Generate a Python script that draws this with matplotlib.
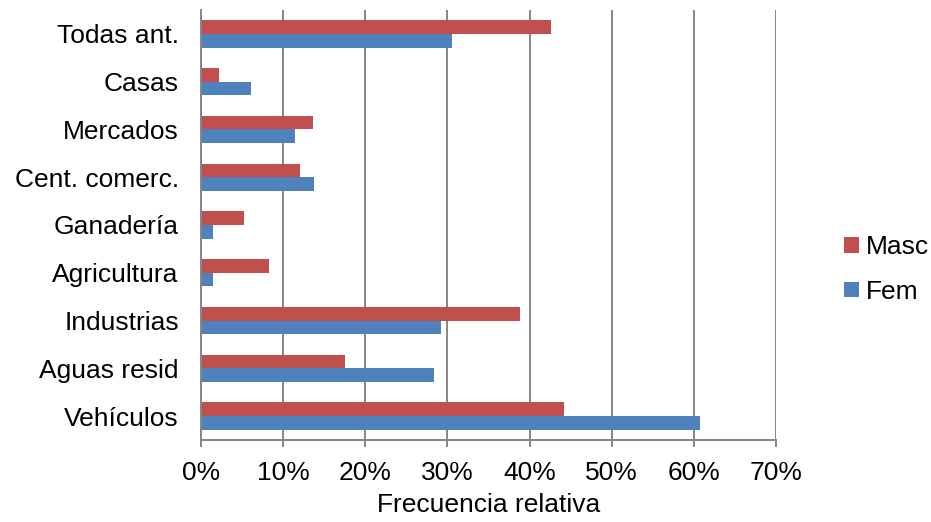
import numpy as np
import matplotlib
matplotlib.use("Agg")
import matplotlib.pyplot as plt
from matplotlib.ticker import PercentFormatter, MultipleLocator

plt.rcParams["font.family"] = ["Liberation Sans", "DejaVu Sans"]

categories = ["Vehículos", "Aguas resid", "Industrias", "Agricultura", "Ganadería",
              "Cent. comerc.", "Mercados", "Casas", "Todas ant."]
masc = [44.2, 17.5, 38.8, 8.3, 5.2, 12.1, 13.6, 2.2, 42.6]
fem = [60.7, 28.4, 29.2, 1.4, 1.4, 13.7, 11.4, 6.1, 30.6]

masc_color = "#C0504D"
fem_color = "#4F81BD"
grid_color = "#868686"

fig = plt.figure(figsize=(9.31, 5.22), dpi=100)
ax = fig.add_axes([201 / 931, 1 - 440 / 522, 575 / 931, 430 / 522])

y = np.arange(len(categories))
h = 0.285
ax.barh(y + h / 2, masc, height=h, color=masc_color, label="Masc", zorder=3)
ax.barh(y - h / 2, fem, height=h, color=fem_color, label="Fem", zorder=3)

ax.set_xlim(0, 70)
ax.set_ylim(-0.5, len(categories) - 0.5)
ax.xaxis.set_major_locator(MultipleLocator(10))
ax.xaxis.set_major_formatter(PercentFormatter(decimals=0))
ax.set_yticks(y)
ax.set_yticklabels(categories)

ax.grid(axis="x", color=grid_color, linewidth=1.4, zorder=0)
for side in ["top", "right"]:
    ax.spines[side].set_visible(False)
for side in ["left", "bottom"]:
    ax.spines[side].set_color(grid_color)
    ax.spines[side].set_linewidth(1.4)
    ax.spines[side].set_zorder(4)

ax.tick_params(axis="y", length=0, pad=16, labelsize=19)
ax.tick_params(axis="x", direction="out", length=5, width=1.4, color=grid_color,
               pad=10, labelsize=19)
ax.set_xlabel("Frecuencia relativa", fontsize=19, labelpad=6)

fig.legend(loc="center left", bbox_to_anchor=(844 / 931, 1 - 269.5 / 522),
           frameon=False, fontsize=19, handlelength=0.55, handleheight=0.55,
           handletextpad=0.27, labelspacing=0.78, borderpad=0, borderaxespad=0)

fig.savefig("out.png", dpi=100)
